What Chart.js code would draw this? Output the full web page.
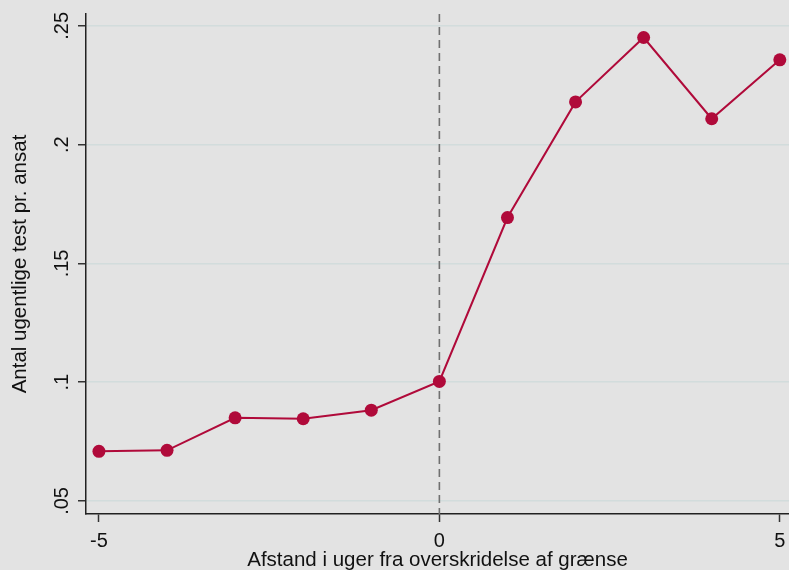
<!DOCTYPE html>
<html>
<head>
<meta charset="utf-8">
<script src="https://cdn.jsdelivr.net/npm/chart.js@4.4.0/dist/chart.umd.min.js"></script>
<style>
  body { margin: 0; background: #e3e3e3; }
  canvas { display: block; }
</style>
</head>
<body>
<canvas id="myChart" width="789" height="570"></canvas>
<script>
var weeks = [-5, -4, -3, -2, -1, 0, 1, 2, 3, 4, 5];
var tests = [0.0709, 0.0713, 0.0850, 0.0846, 0.0882, 0.1003, 0.1693, 0.2180, 0.2451, 0.2109, 0.2357];
var xTicks = [-5, 0, 5];
var yTicks = [0.05, 0.1, 0.15, 0.2, 0.25];
var refLine = 0;

var fontFam = "'Liberation Sans', Arial, sans-serif";

// dashed vertical line at the threshold
var refLinePlugin = {
    id: 'refLine',
    beforeDatasetsDraw: function (chart) {
        var ctx = chart.ctx;
        var x = chart.scales.x.getPixelForValue(refLine);
        var area = chart.chartArea;
        ctx.save();
        ctx.strokeStyle = '#707070';
        ctx.lineWidth = 1.6;
        ctx.setLineDash([8, 5]);
        ctx.beginPath();
        ctx.moveTo(x, area.top);
        ctx.lineTo(x, area.bottom);
        ctx.stroke();
        ctx.restore();
    }
};

var bgPlugin = {
    id: 'bg',
    beforeDraw: function (chart) {
        var ctx = chart.ctx;
        ctx.save();
        ctx.fillStyle = '#e3e3e3';
        ctx.fillRect(0, 0, chart.width, chart.height);
        ctx.restore();
    }
};

var ctx = document.getElementById('myChart').getContext('2d');
var myChart = new Chart(ctx, {
    type: 'line',
    data: {
        datasets: [
            {
                data: weeks.map((w, i) => ({ x: w, y: tests[i] })),
                borderColor: '#b00a3a',
                backgroundColor: '#b00a3a',
                borderWidth: 2,
                pointRadius: 6.5,
                pointHoverRadius: 6.5,
                pointBorderWidth: 0,
                fill: false,
                tension: 0
            }
        ]
    },
    plugins: [bgPlugin, refLinePlugin],
    options: {
        responsive: false,
        animation: false,
        layout: { autoPadding: false, padding: { top: 14, right: 0, left: 0, bottom: 0 } },
        plugins: {
            legend: { display: false },
            tooltip: { enabled: false }
        },
        scales: {
            x: {
                type: 'linear',
                min: -5.19,
                max: 5.135,
                afterBuildTicks: function (scale) {
                    scale.ticks = xTicks.map(v => ({ value: v }));
                },
                afterFit: function (scale) {
                    scale.height = 56;
                    scale.paddingLeft = 0;
                    scale.paddingRight = 0;
                },
                border: { color: '#222', width: 1.5 },
                grid: {
                    drawOnChartArea: false,
                    drawTicks: true,
                    tickLength: 8,
                    tickColor: '#333',
                    tickWidth: 1.5
                },
                ticks: {
                    color: '#111',
                    font: { family: fontFam, size: 20 },
                    padding: 7,
                    maxRotation: 0,
                    minRotation: 0
                },
                title: {
                    display: true,
                    text: 'Afstand i uger fra overskridelse af grænse',
                    color: '#111',
                    font: { family: fontFam, size: 20.5 },
                    padding: { top: 0, bottom: -3 }
                }
            },
            y: {
                type: 'linear',
                min: 0.0445,
                max: 0.255,
                afterBuildTicks: function (scale) {
                    scale.ticks = yTicks.map(v => ({ value: v }));
                },
                afterFit: function (scale) {
                    scale.width = 86;
                    scale.paddingTop = 0;
                    scale.paddingBottom = 0;
                },
                border: { color: '#222', width: 1.5 },
                grid: {
                    color: '#d2dcdc',
                    lineWidth: 1.5,
                    drawTicks: true,
                    tickLength: 8,
                    tickColor: '#333',
                    tickWidth: 1.5
                },
                ticks: {
                    color: '#111',
                    font: { family: fontFam, size: 20 },
                    padding: 2,
                    crossAlign: 'center',
                    minRotation: 90,
                    maxRotation: 90,
                    callback: function (val) {
                        return String(+val.toFixed(2)).replace(/^0\./, '.');
                    }
                },
                title: {
                    display: true,
                    text: 'Antal ugentlige test pr. ansat',
                    color: '#111',
                    font: { family: fontFam, size: 20.5 },
                    padding: { top: 8, bottom: 0 }
                }
            }
        }
    }
});
</script>
</body>
</html>
